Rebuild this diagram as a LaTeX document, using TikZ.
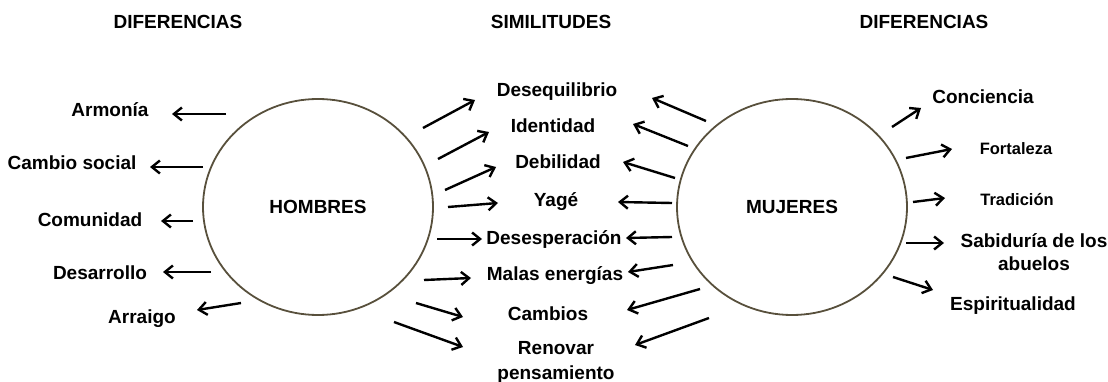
\documentclass[tikz,border=0pt]{standalone}
\usepackage{fontspec}
\setmainfont{Liberation Sans}
\usetikzlibrary{
    arrows.meta,
    shapes.geometric
}
\definecolor{ringcol}{RGB}{88,80,60}
\tikzset{
  every node/.style={
    inner sep=0pt,
    font=\bfseries\fontsize{19}{25}\selectfont
  },
  lbl/.style={anchor=base, align=center},
  smalllbl/.style={lbl, font=\bfseries\fontsize{16.5}{20}\selectfont},
  ring/.style={
    ellipse,
    draw=ringcol,
    line width=1.8pt,
    minimum width=230pt,
    minimum height=216pt
  },
  arr/.style={
    -{Straight Barb[length=8pt,width=13pt,line width=2.4pt]},
    line width=2.4pt,
    black
  }
}

\begin{document}
\begin{tikzpicture}[x=1pt,y=-1pt]

    \useasboundingbox (0,0) rectangle (1108,382);

    % títulos
    \node[lbl] (difIzq) at (178,29) {DIFERENCIAS};
    \node[lbl] (simil)  at (551,29) {SIMILITUDES};
    \node[lbl] (difDer) at (924,29) {DIFERENCIAS};

    % círculos
    \node[ring] (hombres) at (318,207) {HOMBRES};
    \node[ring] (mujeres) at (792,207) {MUJERES};

    % diferencias de los hombres
    \node[lbl] (armonia)   at (110,117) {Armonía};
    \node[lbl] (cambioSoc) at (72,170)  {Cambio social};
    \node[lbl] (comunidad) at (90,226)  {Comunidad};
    \node[lbl] (desarr)    at (100,279) {Desarrollo};
    \node[lbl] (arraigo)   at (142,323) {Arraigo};

    % similitudes
    \node[lbl] (deseq)     at (557,97)  {Desequilibrio};
    \node[lbl] (identidad) at (553,133) {Identidad};
    \node[lbl] (debilidad) at (558,169) {Debilidad};
    \node[lbl] (yage)      at (556,207) {Yagé};
    \node[lbl] (desesp)    at (554,244) {Desesperación};
    \node[lbl] (malas)     at (555,280) {Malas energías};
    \node[lbl] (cambios)   at (548,320) {Cambios};
    \node[lbl] (renovar)   at (556,379) {Renovar\\pensamiento};

    % diferencias de las mujeres
    \node[lbl]      (conciencia) at (983,104)  {Conciencia};
    \node[smalllbl] (fortaleza)  at (1016,155) {Fortaleza};
    \node[smalllbl] (tradicion)  at (1017,206) {Tradición};
    \node[lbl]      (sabiduria)  at (1034,270) {Sabiduría de los\\[-2pt]abuelos};
    \node[lbl]      (espirit)    at (1013,310) {Espiritualidad};

    % flechas
    \foreach \n/\ax/\ay/\bx/\by in {
        1/226/114/172/114, 2/203/167/150/167, 3/193/221/161/221,
        4/211/272/163/272, 5/241/303/197/310,
        6/423/128/475/100, 7/438/159/489/132, 8/445/190/496/167,
        9/448/207/498/203, 10/437/239/482/239, 11/424/280/471/278,
        12/416/303/463/317, 13/394/322/463/347,
        14/706/121/652/98, 15/688/146/633/124, 16/675/178/623/162,
        17/672/203/618/202, 18/672/237/626/238, 19/673/265/628/272,
        20/700/289/627/310, 21/709/318/635/345,
        22/892/127/921/108, 23/906/158/952/149, 24/913/202/945/198,
        25/906/243/944/243, 26/893/277/933/290}{
        \coordinate (s\n) at (\ax,\ay);
        \coordinate (e\n) at (\bx,\by);
        \draw[arr] (s\n) -- (e\n);
    }

\end{tikzpicture}
\end{document}
